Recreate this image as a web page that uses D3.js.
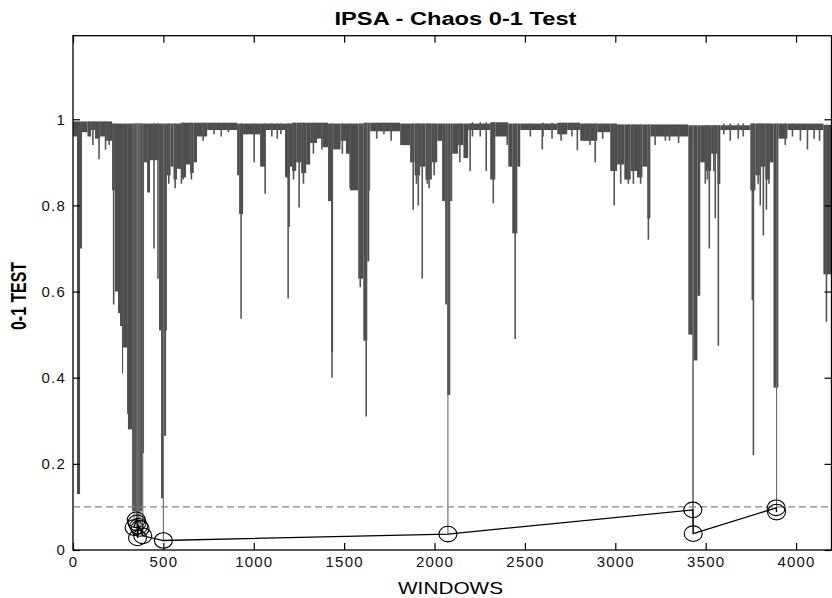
<!DOCTYPE html>
<html><head><meta charset="utf-8">
<script src="https://cdn.jsdelivr.net/npm/d3@7"></script>
<style>body{margin:0;background:#fff}svg{display:block}</style>
</head><body>
<svg id="chart" width="832" height="598"></svg>
<script>
// ---- data ----
// dense band of the 0-1 test: step bottoms (window where the step starts, lowest value in that step)
const stepStart = [0,22,39,50,80,100,122,150,183,216,232,249,260,271,277,299,304,327,382,393,410,426,476,487,498,504,515,520,540,556,575,600,625,648,668,686,742,908,919,941,1035,1063,1173,1196,1212,1235,1262,1290,1312,1350,1380,1411,1428,1439,1480,1510,1533,1578,1606,1628,1639,1644,1810,1865,1890,1920,1950,1985,2015,2042,2059,2070,2087,2098,2130,2160,2186,2308,2336,2408,2430,2458,2474,2679,2734,2806,2900,2972,3010,3050,3085,3120,3150,3177,3194,3404,3432,3454,3470,3500,3530,3565,3581,3747,3775,3800,3830,3855,3875,3902,3952,4151];
const stepLow   = [0.96,0.13,0.70,0.97,0.96,0.975,0.955,0.96,0.95,0.835,0.60,0.55,0.52,0.41,0.47,0.316,0.28,0.09,0.225,0.90,0.83,0.905,0.51,0.12,0.51,0.265,0.51,0.87,0.89,0.86,0.885,0.865,0.895,0.875,0.90,0.96,0.975,0.87,0.78,0.965,0.89,0.975,0.865,0.89,0.88,0.90,0.875,0.895,0.945,0.955,0.935,0.81,0.46,0.93,0.95,0.92,0.835,0.63,0.486,0.67,0.835,0.972,0.94,0.90,0.87,0.89,0.86,0.90,0.95,0.81,0.57,0.36,0.81,0.92,0.94,0.91,0.975,0.86,0.96,0.89,0.735,0.89,0.975,0.965,0.975,0.95,0.97,0.88,0.895,0.86,0.88,0.865,0.89,0.77,0.96,0.50,0.44,0.59,0.90,0.88,0.92,0.85,0.975,0.835,0.87,0.89,0.86,0.90,0.377,0.955,0.975,0.64];
const lastWindow = 4196;
// top edge of the band
const bandTopWin = [0,200,400,600,800,1000,1200,1400,1600,1800,2000,2200,2400,2600,2800,3000,3200,3400,3600,3800,4000,4200];
const bandTop    = [0.995,0.99,0.99,0.992,0.99,0.99,0.992,0.99,0.992,0.99,0.99,0.993,0.99,0.992,0.99,0.988,0.983,0.986,0.99,0.99,0.987,0.99];
// single-window dips (window, lowest value)
const spikeWin = [95,110,144,180,200,225,448,470,500,338,350,354,357,363,371,386,530,565,600,610,655,720,780,820,860,930,1002,1063,1100,1130,1150,1190,1196,1220,1251,1275,1330,1377,1433,1490,1533,1589,1622,1680,1720,1760,1882,1900,1910,1932,1960,1970,1998,2074,2140,2197,2210,2253,2286,2325,2402,2446,2530,2596,2600,2650,2700,2760,2790,2834,2860,2889,2930,2994,3030,3072,3100,3140,3183,3220,3277,3300,3350,3429,3431,3498,3510,3520,3545,3553,3570,3600,3636,3680,3708,3758,3764,3790,3802,3819,3836,3850,3892,3940,3980,4024,4063,4100,4130,4168];
const spikeLow = [0.965,0.94,0.907,0.93,0.94,0.57,0.70,0.63,0.022,0.052,0.07,0.063,0.028,0.055,0.05,0.033,0.85,0.84,0.85,0.86,0.86,0.95,0.965,0.96,0.97,0.537,0.90,0.827,0.96,0.955,0.965,0.584,0.75,0.86,0.795,0.85,0.92,0.93,0.40,0.92,0.84,0.61,0.31,0.955,0.965,0.95,0.79,0.85,0.80,0.63,0.85,0.84,0.87,0.037,0.90,0.88,0.96,0.96,0.88,0.805,0.94,0.49,0.96,0.93,0.96,0.955,0.95,0.96,0.928,0.95,0.94,0.90,0.955,0.80,0.85,0.85,0.85,0.85,0.72,0.94,0.95,0.95,0.945,0.093,0.038,0.85,0.86,0.70,0.88,0.77,0.474,0.965,0.95,0.955,0.96,0.58,0.22,0.85,0.80,0.73,0.79,0.85,0.088,0.94,0.96,0.95,0.93,0.955,0.95,0.53];
// windows flagged below the threshold (circles)
const chaosWin = [338,350,354,357,363,371,386,500,2074,3429,3431,3890,3892];
const chaosVal = [0.052,0.07,0.063,0.028,0.055,0.05,0.033,0.022,0.037,0.093,0.038,0.098,0.088];
const threshold = 0.1;
const xTicks = [0,500,1000,1500,2000,2500,3000,3500,4000];
const yTicks = [0,0.2,0.4,0.6,0.8,1];

// ---- layout ----
const L = 73, R = 831.5, T = 35.7, B = 550;
const svg = d3.select("#chart");
const x = d3.scaleLinear().domain([0, lastWindow]).range([L, R]);
const y = d3.scaleLinear().domain([0, 1.194]).range([B, T]);

svg.append("defs").append("clipPath").attr("id","clip")
  .append("rect").attr("x",L).attr("y",T).attr("width",R-L).attr("height",B-T);
const g = svg.append("g").attr("clip-path","url(#clip)");

const topAt = w => bandTop[Math.max(0, d3.bisectRight(bandTopWin, w) - 1)];

// dense band
const steps = stepStart.map((s,i) => ({s, e: i+1 < stepStart.length ? stepStart[i+1] : lastWindow, low: stepLow[i]}));
g.selectAll("rect.band").data(steps).join("rect").attr("class","band")
  .attr("x", d => x(d.s)).attr("width", d => Math.max(0.8, x(d.e) - x(d.s)))
  .attr("y", d => y(topAt(d.s)))
  .attr("height", d => y(d.low) - y(topAt(d.s)))
  .attr("fill", "#4d4d4d");

// single dips
const spikes = spikeWin.map((w,i) => ({w, low: spikeLow[i]}));
g.selectAll("line.spike").data(spikes).join("line").attr("class","spike")
  .attr("x1", d => x(d.w)).attr("x2", d => x(d.w))
  .attr("y1", d => y(topAt(d.w))).attr("y2", d => y(d.low))
  .attr("stroke", d => d.low < threshold ? "#6a6a6a" : "#555")
  .attr("stroke-width", d => d.low < threshold ? 1.1 : 1.6);

// threshold dashed line
g.append("line").attr("x1", L).attr("x2", R).attr("y1", y(threshold)).attr("y2", y(threshold))
  .attr("stroke", "#858585").attr("stroke-width", 1.3).attr("stroke-dasharray", "7,4");

// chaos points
const pts = chaosWin.map((w,i) => ({w, v: chaosVal[i]}));
g.append("path").datum(pts)
  .attr("d", d3.line().x(d => x(d.w)).y(d => y(d.v)))
  .attr("fill","none").attr("stroke","#000").attr("stroke-width",1.3);
g.selectAll("ellipse.pt").data(pts).join("ellipse").attr("class","pt")
  .attr("cx", d => x(d.w)).attr("cy", d => y(d.v))
  .attr("rx", 9).attr("ry", 7.8)
  .attr("fill","none").attr("stroke","#000").attr("stroke-width",1.1);

// axes
const tickFont = g2 => g2.selectAll("text")
  .attr("font-family","Liberation Sans, Arial, sans-serif").attr("font-size","15px")
  .attr("letter-spacing","1.2px").attr("fill","#111");
const styleAxis = sel => { sel.select(".domain").remove(); sel.selectAll("line").attr("stroke","#000").attr("stroke-width",1.2); };

svg.append("g").attr("transform",`translate(0,${B})`)
  .call(d3.axisBottom(x).tickValues(xTicks).tickSize(-7).tickPadding(6).tickFormat(d => String(d)))
  .call(styleAxis).call(tickFont);
svg.append("g").attr("transform",`translate(0,${T})`)
  .call(d3.axisTop(x).tickValues(xTicks).tickSize(-7).tickFormat(""))
  .call(styleAxis);
svg.append("g").attr("transform",`translate(${L},0)`)
  .call(d3.axisLeft(y).tickValues(yTicks).tickSize(-7).tickPadding(7).tickFormat(d => String(d)))
  .call(styleAxis).call(tickFont);
svg.append("g").attr("transform",`translate(${R},0)`)
  .call(d3.axisRight(y).tickValues(yTicks).tickSize(-7).tickFormat(""))
  .call(styleAxis);

// frame
svg.append("rect").attr("x",L).attr("y",T).attr("width",R-L).attr("height",B-T)
  .attr("fill","none").attr("stroke","#000").attr("stroke-width",1.3);

// titles
svg.append("text").attr("x", 455.5).attr("y", 25).attr("text-anchor","middle")
  .attr("font-family","Liberation Sans, Arial, sans-serif").attr("font-weight","bold").attr("font-size","18px")
  .attr("textLength", 242).attr("lengthAdjust","spacingAndGlyphs")
  .text("IPSA - Chaos 0-1 Test");
svg.append("text").attr("x", 450.5).attr("y", 594).attr("text-anchor","middle")
  .attr("font-family","Liberation Sans, Arial, sans-serif").attr("font-size","17px")
  .attr("textLength", 105).attr("lengthAdjust","spacingAndGlyphs")
  .text("WINDOWS");
svg.append("g").attr("transform","translate(26,296) scale(1.35,1) rotate(-90)")
  .append("text").attr("x",0).attr("y",0).attr("text-anchor","middle")
  .attr("font-family","Liberation Sans, Arial, sans-serif").attr("font-weight","bold").attr("font-size","16px")
  .attr("textLength", 68).attr("lengthAdjust","spacingAndGlyphs")
  .text("0-1 TEST");
</script>
</body></html>
